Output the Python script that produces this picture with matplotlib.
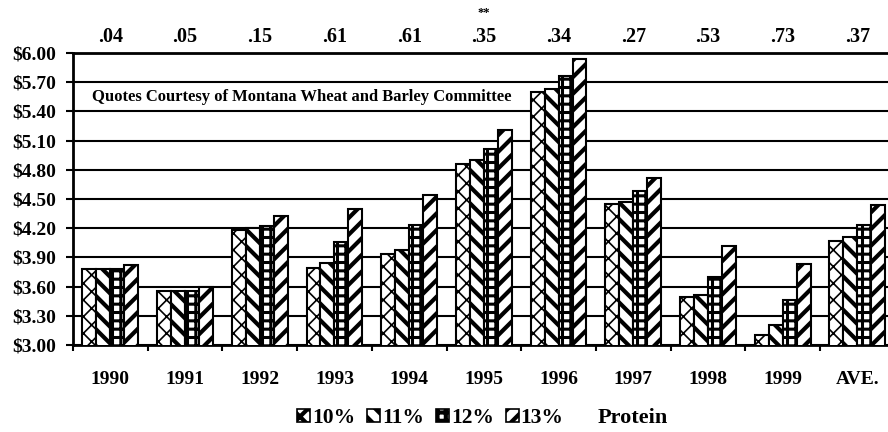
import numpy as np
import matplotlib.pyplot as plt
from matplotlib.patches import Patch

# protein premium quotes, $/bu
years = ['1990', '1991', '1992', '1993', '1994', '1995', '1996', '1997', '1998', '1999', 'AVE.']
spreads = ['.04', '.05', '.15', '.61', '.61', '.35', '.34', '.27', '.53', '.73', '.37']
p10 = [3.78, 3.55, 4.18, 3.79, 3.93, 4.86, 5.60, 4.45, 3.49, 3.10, 4.07]
p11 = [3.78, 3.55, 4.20, 3.84, 3.98, 4.90, 5.63, 4.47, 3.51, 3.21, 4.11]
p12 = [3.78, 3.55, 4.22, 4.06, 4.23, 5.01, 5.76, 4.58, 3.70, 3.46, 4.23]
p13 = [3.82, 3.60, 4.33, 4.40, 4.54, 5.21, 5.94, 4.72, 4.02, 3.83, 4.44]
series_labels = ['10%', '11%', '12%', '13%']
yticks = [3.00, 3.30, 3.60, 3.90, 4.20, 4.50, 4.80, 5.10, 5.40, 5.70, 6.00]

plt.rcParams['font.family'] = ['Liberation Serif', 'DejaVu Serif']
plt.rcParams['font.weight'] = 'bold'
plt.rcParams['hatch.linewidth'] = 3.0

hatches = ['xx', '\\\\', '++', '//']
hatch_lw = [1.2, 3.0, 2.2, 3.0]


def set_hlw(patch, lw):
    # per-patch hatch width if this matplotlib has it
    if hasattr(patch, 'set_hatch_linewidth'):
        patch.set_hatch_linewidth(lw)


fig = plt.figure(figsize=(8.88, 4.32), dpi=100)
ax = fig.add_axes([73 / 888, 1 - 345 / 432, 815 / 888, 292 / 432])

x = np.arange(len(years)) + 0.5
w = 0.187
for i, vals in enumerate([p10, p11, p12, p13]):
    bars = ax.bar(x + (i - 1.5) * w, vals, width=w, color='white', edgecolor='black',
                  hatch=hatches[i], linewidth=1.5, zorder=3)
    for b in bars:
        set_hlw(b, hatch_lw[i])

ax.set_ylim(3.0, 6.0)
ax.set_xlim(0, 815 / 74.7)
ax.set_yticks(yticks)
ax.set_yticklabels([f'${v:.2f}' for v in yticks])
ax.yaxis.grid(True, color='black', linewidth=1.5)
ax.set_axisbelow(True)
ax.tick_params(axis='y', length=5, width=1.5, pad=7, labelsize=14)

ax.set_xticks(np.arange(0, len(years)))
ax.set_xticklabels([])
ax.tick_params(axis='x', which='major', length=4, width=1.5)
ax.set_xticks(x, minor=True)
ax.set_xticklabels(years, minor=True)
ax.tick_params(axis='x', which='minor', length=0, pad=19, labelsize=14)

ax.spines['right'].set_visible(False)
for s in ['left', 'bottom', 'top']:
    ax.spines[s].set_linewidth(2)

for xi, s in zip(x, spreads):
    ax.annotate(s, xy=(xi, 1), xycoords=('data', 'axes fraction'), xytext=(0, 11.5),
                textcoords='offset points', ha='center', va='center', fontsize=14.5,
                annotation_clip=False)
ax.annotate('**', xy=(x[5], 1), xycoords=('data', 'axes fraction'), xytext=(0, 29),
            textcoords='offset points', ha='center', va='center', fontsize=9,
            annotation_clip=False)

fig.text(92 / 888, 1 - 97 / 432, 'Quotes Courtesy of Montana Wheat and Barley Committee',
         va='center', ha='left', fontsize=12)

handles = []
for i in range(4):
    p = Patch(facecolor='white', edgecolor='black', hatch=hatches[i], linewidth=1.2)
    set_hlw(p, hatch_lw[i])
    handles.append(p)
fig.legend(handles, series_labels, loc='center left', bbox_to_anchor=(297 / 888, 1 - 418 / 432),
           ncol=4, frameon=False, handlelength=0.6, handleheight=0.6, handletextpad=0.1,
           columnspacing=0.55, fontsize=15.5, borderpad=0, borderaxespad=0)
fig.text(598 / 888, 1 - 418 / 432, 'Protein', va='center', ha='left', fontsize=16)

fig.savefig('out.png', dpi=100)
